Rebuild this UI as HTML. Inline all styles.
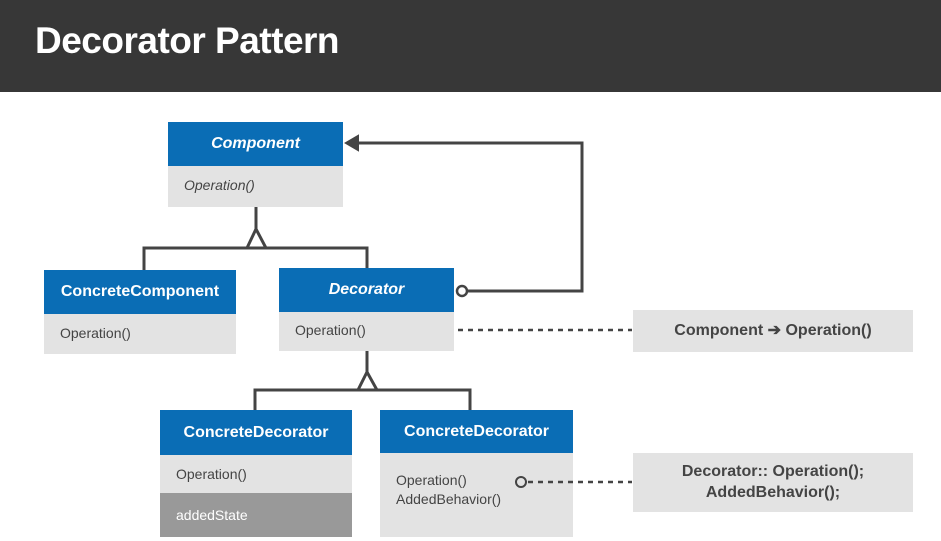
<!DOCTYPE html>
<html><head><style>
body{margin:0;width:941px;height:541px;background:#fff;position:relative;overflow:hidden;font-family:"Liberation Sans",sans-serif}
.hdr{position:absolute;left:0;top:0;width:941px;height:92px;background:#373737}
.hdr span{position:absolute;left:35px;top:20px;color:#fff;font-weight:bold;font-size:37px;letter-spacing:-0.5px}
.b{position:absolute}
.h{background:#0a6db5;color:#fff;font-weight:bold;font-size:16px;text-align:center;box-sizing:border-box}
.g{background:#e3e3e3;color:#444;font-size:14px;box-sizing:border-box;padding-left:16px}
.n{position:absolute;background:#e3e3e3;color:#444;font-weight:bold;font-size:16px;text-align:center;box-sizing:border-box}
svg{z-index:5}
</style></head><body>
<div class="hdr"><span>Decorator Pattern</span></div>

<div class="b" style="left:168px;top:122px;width:175px">
<div class="h" style="height:44px;line-height:44px;font-style:italic">Component</div>
<div class="g" style="height:41px;line-height:38px;font-style:italic">Operation()</div></div>

<div class="b" style="left:44px;top:270px;width:192px">
<div class="h" style="height:44px;line-height:44px">ConcreteComponent</div>
<div class="g" style="height:40px;line-height:38px">Operation()</div></div>

<div class="b" style="left:279px;top:268px;width:175px">
<div class="h" style="height:44px;line-height:44px;font-style:italic">Decorator</div>
<div class="g" style="height:39px;line-height:36px">Operation()</div></div>

<div class="b" style="left:160px;top:410px;width:192px">
<div class="h" style="height:45px;line-height:45px">ConcreteDecorator</div>
<div class="g" style="height:38px;line-height:38px">Operation()</div>
<div class="g" style="height:44px;line-height:44px;background:#999;color:#fff">addedState</div></div>

<div class="b" style="left:380px;top:410px;width:193px">
<div class="h" style="height:43px;line-height:43px">ConcreteDecorator</div>
<div class="g" style="height:84px;padding-top:18px;line-height:19px">Operation()<br>AddedBehavior()</div></div>

<div class="n" style="left:633px;top:310px;width:280px;height:42px;line-height:42px">Component ➔ Operation()</div>
<div class="n" style="left:633px;top:453px;width:280px;height:59px;padding-top:8px;line-height:21px">Decorator:: Operation();<br>AddedBehavior();</div>

<svg class="b" style="left:0;top:0" width="941" height="541">
<g stroke="#444" stroke-width="3" fill="none">
<line x1="256" y1="207" x2="256" y2="229"/>
<polygon points="256,229 247,248 266,248" fill="#fff"/>
<polyline points="144,270 144,248 367,248 367,268"/>
<line x1="367" y1="351" x2="367" y2="372"/>
<polygon points="367,372 358,390 377,390" fill="#fff"/>
<polyline points="255,410 255,390 470,390 470,410"/>
<polyline points="467,291 582,291 582,143 348,143"/>
<polygon points="358,136 346,143 358,150" fill="#444" stroke-width="2"/>
<circle cx="462" cy="291" r="5" stroke-width="2.5" fill="#fff"/>
<line x1="458" y1="330" x2="632" y2="330" stroke-dasharray="5,5" stroke-width="2.5"/>
<circle cx="521" cy="482" r="5" stroke-width="2" fill="#e3e3e3"/>
<line x1="528" y1="482" x2="632" y2="482" stroke-dasharray="5,5" stroke-width="2.5"/>
</g></svg>
</body></html>
